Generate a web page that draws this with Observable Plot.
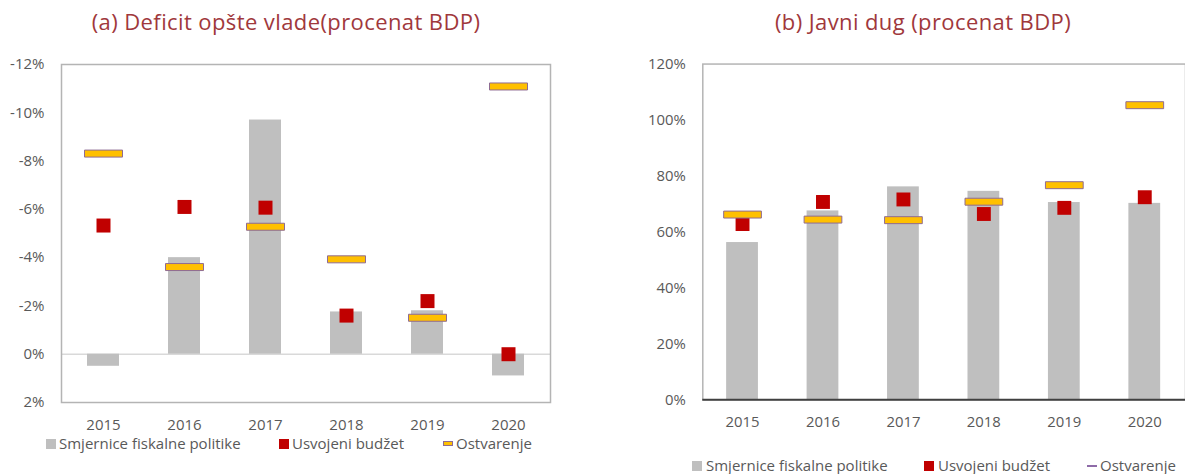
<!DOCTYPE html>
<html>
<head>
<meta charset="utf-8">
<script src="https://cdn.jsdelivr.net/npm/d3@7"></script>
<script src="https://cdn.jsdelivr.net/npm/@observablehq/plot@0.6"></script>
<style>
  html, body { margin: 0; padding: 0; background: #fff; overflow: hidden; }
  #root { position: relative; width: 1185px; height: 474px; overflow: hidden; font-family: "Open Sans", sans-serif; }
  .panel { position: absolute; top: 0; }
  .title { position: absolute; top: 8px; font-family: "Open Sans", sans-serif; font-size: 22px; letter-spacing: 0.4px; color: #A0383C; white-space: nowrap; transform: translateX(-50%); line-height: 1.2; }
  .leg { position: absolute; font-size: 15px; color: #595959; white-space: nowrap; line-height: 1; }
  .sw { position: absolute; }
</style>
</head>
<body>
<div id="root"></div>
<script>
// ---- data ----
const years = ["2015", "2016", "2017", "2018", "2019", "2020"];

// (a) General government deficit, % of GDP (negative = deficit)
const deficitGuidelines = [0.5, -4.0, -9.7, -1.75, -1.8, 0.9];
const deficitBudget     = [-5.33, -6.1, -6.07, -1.6, -2.2, 0.0];
const deficitOutturn    = [-8.31, -3.61, -5.28, -3.93, -1.51, -11.09];
const deficitTicks      = [-12, -10, -8, -6, -4, -2, 0, 2];

// (b) Public debt, % of GDP
const debtGuidelines = [56.2, 67.5, 76.1, 74.5, 70.5, 70.2];
const debtBudget     = [62.8, 70.7, 71.6, 66.4, 68.6, 72.4];
const debtOutturn    = [66.2, 64.4, 64.2, 70.8, 76.7, 105.3];
const debtTicks      = [0, 20, 40, 60, 80, 100, 120];

const titles = ["(a)  Deficit opšte vlade(procenat BDP)", "(b) Javni dug (procenat BDP)"];
const legendLabels = ["Smjernice fiskalne politike", "Usvojeni budžet", "Ostvarenje"];

// ---- styles ----
const GREY = "#BFBFBF", RED = "#C00000", GOLD = "#FFC000", DASH_STROKE = "#8E6B93";
const squareSymbol = { draw(ctx) { ctx.rect(-7, -7, 14, 14); } };
const dashSymbol = { draw(ctx) { ctx.rect(-19, -3.5, 38, 7); } };

const table = (g, b, o) => years.map((y, i) => ({ year: y, g: g[i], b: b[i], o: o[i] }));
const deficitData = table(deficitGuidelines, deficitBudget, deficitOutturn);
const debtData = table(debtGuidelines, debtBudget, debtOutturn);

const common = {
  height: 440,
  marginTop: 64,
  marginBottom: 38,
  style: { fontFamily: "Open Sans, sans-serif", fontSize: "15px", color: "#595959", background: "transparent", overflow: "visible" },
  x: { type: "band", domain: years, paddingInner: 0.6, paddingOuter: 0.3, label: null, tickSize: 0, tickPadding: 17 }
};

const chartA = Plot.plot({
  ...common,
  width: 600,
  marginLeft: 61,
  marginRight: 50,
  y: { domain: [2, -12], ticks: deficitTicks, tickFormat: d => (d === 0 ? "0" : d) + "%", label: null, tickSize: 0, tickPadding: 17 },
  marks: [
    Plot.ruleY([0], { stroke: "#D9D9D9", strokeWidth: 1.5 }),
    Plot.barY(deficitData, { x: "year", y: "g", fill: GREY }),
    Plot.frame({ stroke: "#B4B4B4", strokeWidth: 1.5 }),
    Plot.dot(deficitData, { x: "year", y: "o", symbol: dashSymbol, fill: GOLD, stroke: DASH_STROKE, strokeWidth: 1 }),
    Plot.dot(deficitData, { x: "year", y: "b", symbol: squareSymbol, fill: RED, stroke: "none" })
  ]
});

const chartB = Plot.plot({
  ...common,
  width: 589,
  marginLeft: 103,
  marginRight: 0,
  y: { domain: [0, 120], ticks: debtTicks, tickFormat: d => d + "%", label: null, tickSize: 0, tickPadding: 17 },
  marks: [
    Plot.barY(debtData, { x: "year", y: "g", fill: GREY }),
    Plot.frame({ stroke: "#B4B4B4", strokeWidth: 1.5 }),
    Plot.ruleY([0], { stroke: "#404040", strokeWidth: 2 }),
    Plot.dot(debtData, { x: "year", y: "b", symbol: squareSymbol, fill: RED, stroke: "none" }),
    Plot.dot(debtData, { x: "year", y: "o", symbol: dashSymbol, fill: GOLD, stroke: DASH_STROKE, strokeWidth: 1 })
  ]
});

const root = document.getElementById("root");
function place(el, left) { const d = document.createElement("div"); d.className = "panel"; d.style.left = left + "px"; d.appendChild(el); root.appendChild(d); }
place(chartA, 0);
place(chartB, 600);

function addTitle(text, cx) { const t = document.createElement("div"); t.className = "title"; t.style.left = cx + "px"; t.textContent = text; root.appendChild(t); }
addTitle(titles[0], 286);
addTitle(titles[1], 923);

function addSwatch(x, y, w, h, css) { const s = document.createElement("div"); s.className = "sw"; Object.assign(s.style, { left: x + "px", top: y + "px", width: w + "px", height: h + "px" }, css); root.appendChild(s); }
function addText(x, yc, text) { const s = document.createElement("div"); s.className = "leg"; s.style.left = x + "px"; s.style.top = (yc - 8) + "px"; s.textContent = text; root.appendChild(s); }

// legend (a)
addSwatch(46, 439, 10, 10, { background: GREY });
addText(59, 444, legendLabels[0]);
addSwatch(279, 439, 10, 10, { background: RED });
addText(292, 444, legendLabels[1]);
addSwatch(444, 442, 8, 3, { background: GOLD, outline: "1px solid " + DASH_STROKE });
addText(456, 444, legendLabels[2]);

// legend (b)
addSwatch(692, 461, 10, 10, { background: GREY });
addText(706, 466, legendLabels[0]);
addSwatch(924, 461, 10, 10, { background: RED });
addText(938, 466, legendLabels[1]);
addSwatch(1087, 465, 10, 2, { background: "#8E6BA8" });
addText(1100, 466, legendLabels[2]);
</script>
</body>
</html>
